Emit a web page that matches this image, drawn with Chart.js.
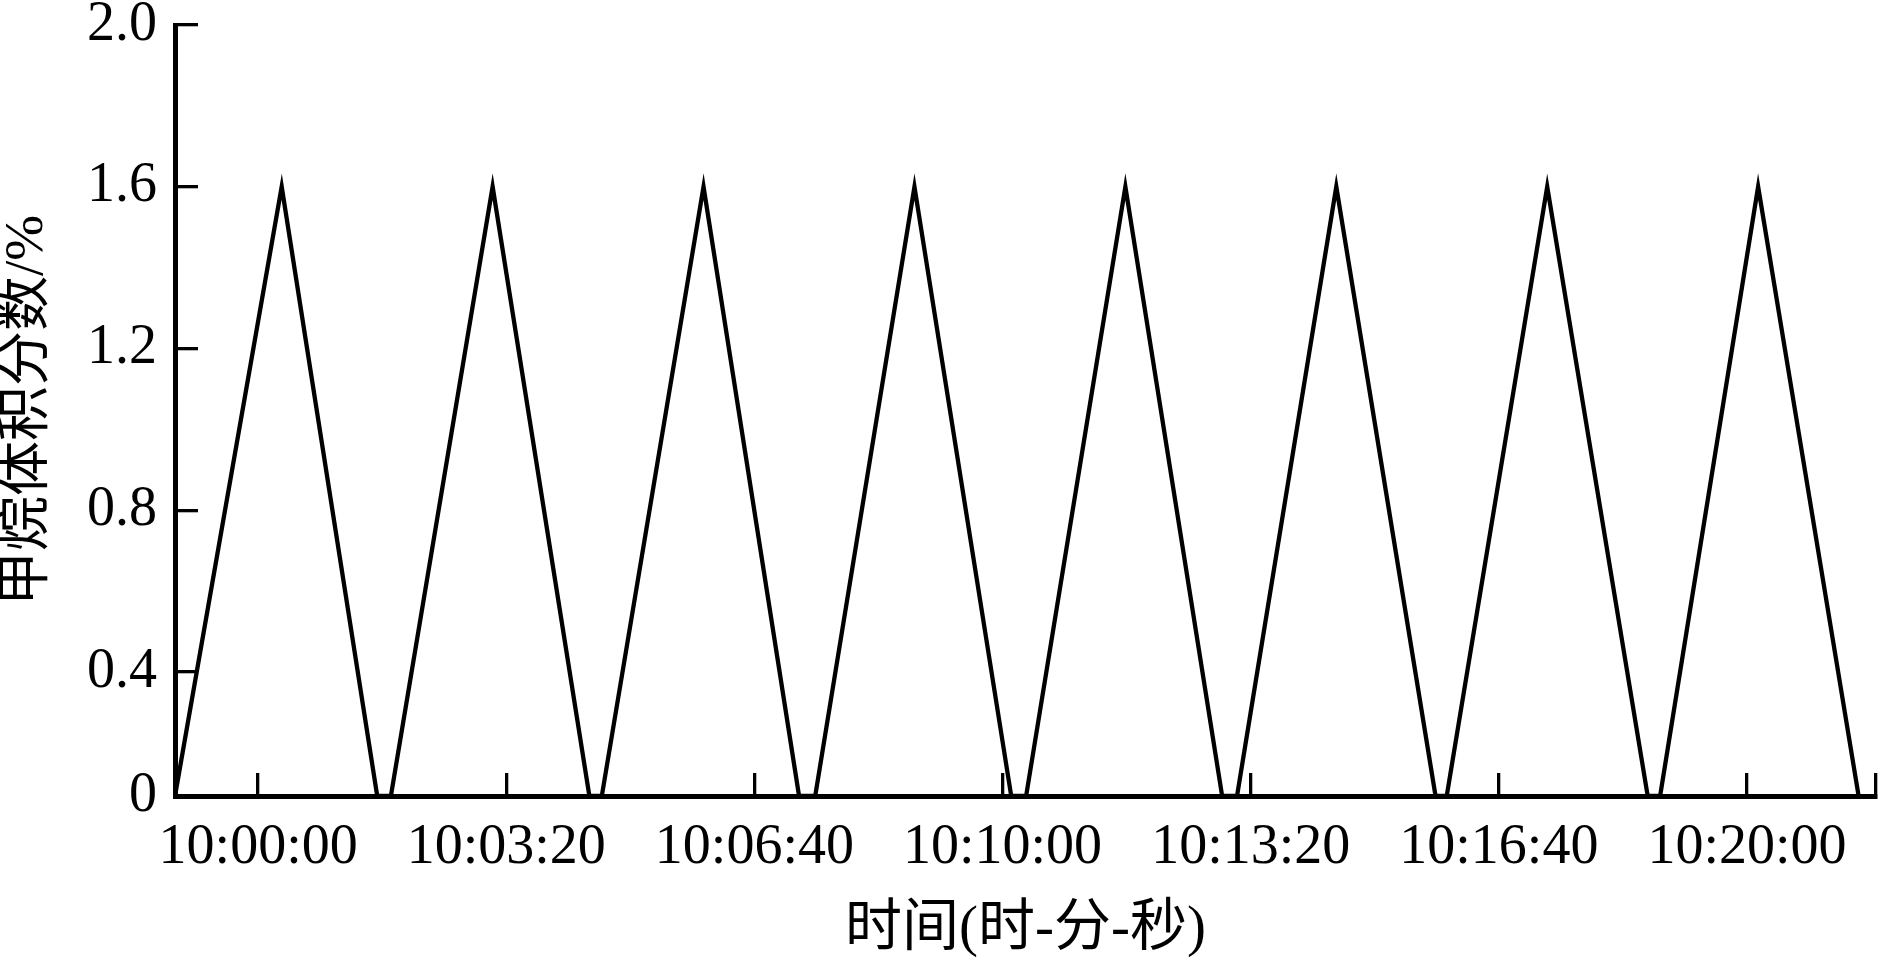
<!DOCTYPE html>
<html lang="zh">

<head>
  <meta charset="UTF-8">
  <title>甲烷体积分数</title>
  <script src="https://cdn.jsdelivr.net/npm/chart.js"></script>
  <style>
    html, body { margin: 0; padding: 0; background: #fff; }
    .chart-wrapper { width: 1891px; height: 966px; }
  </style>
</head>

<body>
  <div class="chart-wrapper"><canvas id="methaneChart"></canvas></div>

  <script>
    // 监测时刻 (时:分:秒) 与甲烷体积分数 (%)
    const sampleTimes = [
      '09:58:53', '10:00:19', '10:01:36', '10:01:47',
      '10:03:09', '10:04:27', '10:04:37',
      '10:05:59', '10:07:16', '10:07:29',
      '10:08:49', '10:10:07', '10:10:19',
      '10:11:39', '10:12:57', '10:13:09',
      '10:14:29', '10:15:49', '10:15:58',
      '10:17:19', '10:18:40', '10:18:50',
      '10:20:09', '10:21:30'
    ];
    const methaneValues = [
      0, 1.6, 0, 0,
      1.6, 0, 0,
      1.6, 0, 0,
      1.6, 0, 0,
      1.6, 0, 0,
      1.6, 0, 0,
      1.6, 0, 0,
      1.6, 0
    ];
    const xTickLabels = ['10:00:00', '10:03:20', '10:06:40', '10:10:00', '10:13:20', '10:16:40', '10:20:00'];
    const xAxisStart = '09:58:53';
    const xAxisEnd = '10:21:44';
    const yTickValues = [0, 0.4, 0.8, 1.2, 1.6, 2.0];
    const yTickLabels = ['0', '0.4', '0.8', '1.2', '1.6', '2.0'];

    const BASE = 10 * 3600;
    function toSeconds(t) {
      const [h, m, s] = t.split(':').map(Number);
      return h * 3600 + m * 60 + s - BASE;
    }
    function toClock(sec) {
      const total = Math.round(sec) + BASE;
      const pad = n => String(n).padStart(2, '0');
      return pad(Math.floor(total / 3600)) + ':' + pad(Math.floor(total / 60) % 60) + ':' + pad(total % 60);
    }

    // 原图纵轴 0~0.4 一段被压缩，用一个分段线性的刻度来还原
    const BREAK = 0.4;
    const SQUEEZE = 0.767;
    const squeeze = v => v >= BREAK ? v : BREAK - (BREAK - v) * SQUEEZE;
    const unsqueeze = u => u >= BREAK ? u : BREAK - (BREAK - u) / SQUEEZE;

    class SqueezedLinearScale extends Chart.LinearScale {
      getPixelForValue(value) {
        if (value === null || value === undefined) return NaN;
        const lo = squeeze(this.min), hi = squeeze(this.max);
        return this.getPixelForDecimal((squeeze(value) - lo) / (hi - lo));
      }
      getValueForPixel(pixel) {
        const lo = squeeze(this.min), hi = squeeze(this.max);
        return unsqueeze(lo + this.getDecimalForPixel(pixel) * (hi - lo));
      }
    }
    SqueezedLinearScale.id = 'squeezedLinear';
    SqueezedLinearScale.defaults = Chart.LinearScale.defaults;
    Chart.register(SqueezedLinearScale);

    const serif = "'Liberation Serif', 'Noto Sans CJK SC', serif";
    const points = sampleTimes.map((t, i) => ({ x: toSeconds(t), y: methaneValues[i] }));
    const xMin = toSeconds(xAxisStart), xMax = toSeconds(xAxisEnd);

    const ctx = document.getElementById('methaneChart').getContext('2d');
    new Chart(ctx, {
      type: 'line',
      data: {
        datasets: [{
          data: points,
          borderColor: '#000',
          borderWidth: 4.3,
          pointRadius: 0,
          tension: 0,
          fill: false,
          borderJoinStyle: 'miter'
        }]
      },
      options: {
        responsive: true,
        maintainAspectRatio: false,
        animation: false,
        layout: { padding: { top: 25, right: 15, left: 0, bottom: 0 } },
        plugins: { legend: { display: false }, tooltip: { enabled: false } },
        scales: {
          x: {
            type: 'linear',
            min: xMin,
            max: xMax,
            afterBuildTicks: scale => {
              scale.ticks = [{ value: xMin }, ...xTickLabels.map(l => ({ value: toSeconds(l) })), { value: xMax }];
            },
            afterFit: scale => { scale.height = 170; scale.paddingLeft = 0; scale.paddingRight = 0; },
            ticks: {
              color: '#000',
              font: { family: serif, size: 56 },
              padding: 42,
              maxRotation: 0,
              autoSkip: false,
              callback: value => (value === xMin || value === xMax) ? '' : toClock(value)
            },
            grid: { drawOnChartArea: false, drawTicks: true, tickLength: -23, color: '#000', lineWidth: 3.3 },
            border: { display: true, color: '#000', width: 5 },
            title: {
              display: true,
              text: '时间(时-分-秒)',
              color: '#000',
              font: { family: serif, size: 57, lineHeight: 1 },
              padding: { top: 0, bottom: 7 }
            }
          },
          y: {
            type: 'squeezedLinear',
            min: 0,
            max: 2.0,
            afterBuildTicks: scale => { scale.ticks = yTickValues.map(v => ({ value: v })); },
            afterFit: scale => { scale.width = 175; scale.paddingTop = 0; scale.paddingBottom = 0; },
            ticks: {
              color: '#000',
              font: { family: serif, size: 56 },
              padding: 41,
              callback: value => yTickLabels[yTickValues.indexOf(value)]
            },
            grid: { drawOnChartArea: false, drawTicks: true, tickLength: -23, color: '#000', lineWidth: 3.3 },
            border: { display: true, color: '#000', width: 5 },
            title: {
              display: true,
              text: '甲烷体积分数/%',
              color: '#000',
              font: { family: serif, size: 55, lineHeight: 1 },
              padding: 0
            }
          }
        }
      }
    });
  </script>
</body>

</html>
